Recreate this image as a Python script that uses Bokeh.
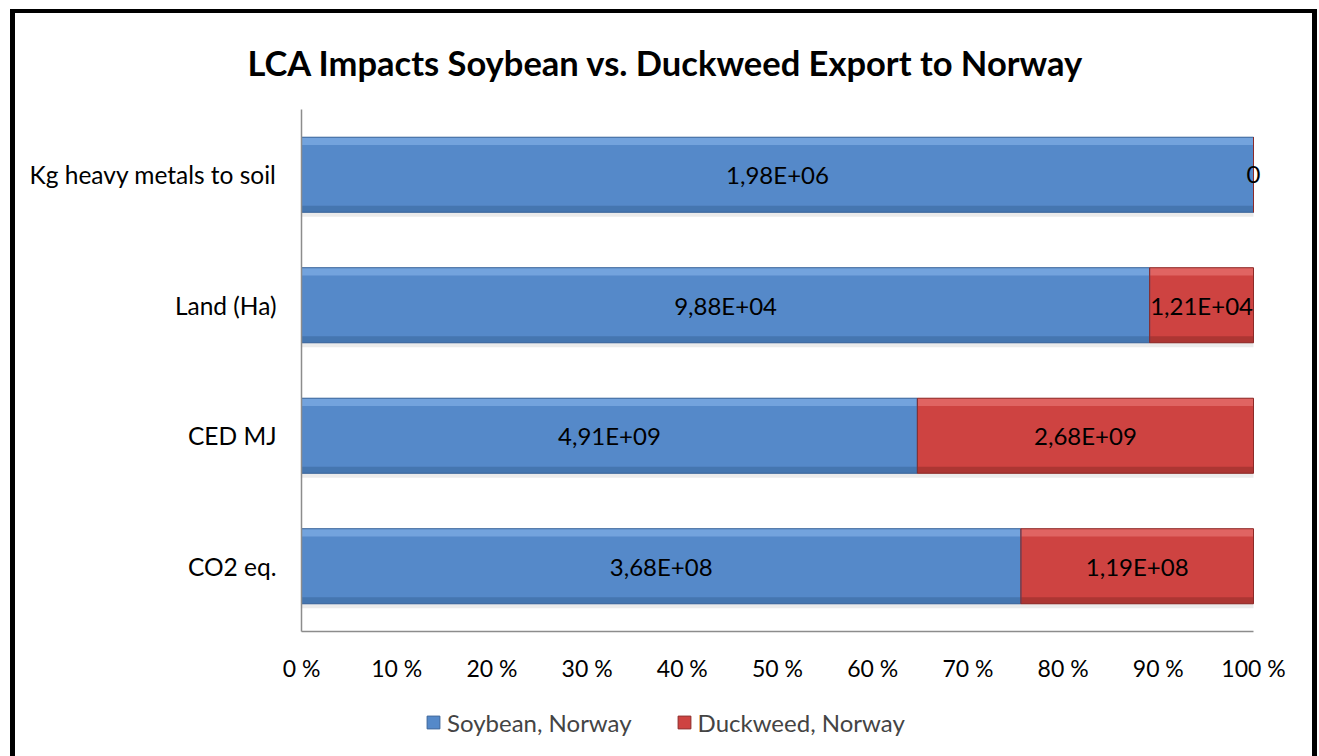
from bokeh.plotting import figure
from bokeh.layouts import column
from bokeh.models import (ColumnDataSource, FactorRange, Range1d, FixedTicker, Legend, LegendItem, Title)
from bokeh.transform import dodge
from bokeh.core.properties import value
from bokeh.embed import file_html
from bokeh.resources import INLINE

# ---- data ----
categories = ["CO2 eq.", "CED MJ", "Land (Ha)", "Kg heavy metals to soil"]
soybean = [3.68e8, 4.91e9, 9.88e4, 1.98e6]
duckweed = [1.19e8, 2.68e9, 1.21e4, 0.0]
series_names = ["Soybean, Norway", "Duckweed, Norway"]
x_ticks = [0, 10, 20, 30, 40, 50, 60, 70, 80, 90, 100]
x_tick_labels = ["0 %", "10 %", "20 %", "30 %", "40 %", "50 %", "60 %", "70 %", "80 %", "90 %", "100 %"]
title_text = "LCA Impacts Soybean vs. Duckweed Export to Norway"

FONT = "Lato"
BLUE, BLUE_L, BLUE_D = "#5589C9", "#80AEE6", "#3F6DA5"
RED, RED_L, RED_D = "#CE4341", "#E87270", "#9E302E"


def fmt(v):
    if v == 0:
        return "0"
    return ("%.2E" % v).replace(".", ",")


tot = [s + d for s, d in zip(soybean, duckweed)]
soy_pct = [100.0 * s / t for s, t in zip(soybean, tot)]
duck_pct = [100.0 * d / t for d, t in zip(duckweed, tot)]
src = ColumnDataSource(dict(
    cat=categories,
    s0=[0.0] * len(categories), s1=soy_pct,
    d0=soy_pct, d1=[a + b for a, b in zip(soy_pct, duck_pct)],
    smid=[a / 2 for a in soy_pct],
    dmid=[a + b / 2 for a, b in zip(soy_pct, duck_pct)],
    slab=[fmt(v) for v in soybean],
    dlab=[fmt(v) for v in duckweed],
))

FW = 964  # 952 px for 0..100 %, a little room to the right for the "0" label
p = figure(frame_width=FW, frame_height=522, output_backend="svg", toolbar_location=None,
           y_range=FactorRange(*categories, range_padding=0), x_range=Range1d(0, 100.0 * FW / 952),
           min_border_left=286, min_border_right=47, min_border_top=95, min_border_bottom=60)
p.background_fill_color = "white"
p.border_fill_color = "white"
p.outline_line_color = None
p.grid.visible = False

BH = 0.575
# shadow
p.hbar(y=dodge("cat", -0.035, range=p.y_range), left="s0", right="d1", height=BH,
       fill_color="#000000", fill_alpha=0.08, line_color=None, source=src)
p.hbar(y="cat", left="s0", right="s1", height=BH, fill_color=BLUE, line_color=None, source=src)
p.hbar(y="cat", left="d0", right="d1", height=BH, fill_color=RED, line_color=None, source=src)
# bevel strips
p.hbar(y=dodge("cat", BH / 2 - 0.03, range=p.y_range), left="s0", right="s1", height=0.06,
       fill_color=BLUE_L, line_color=None, fill_alpha=0.7, source=src)
p.hbar(y=dodge("cat", -BH / 2 + 0.025, range=p.y_range), left="s0", right="s1", height=0.05,
       fill_color=BLUE_D, line_color=None, fill_alpha=0.7, source=src)
p.hbar(y=dodge("cat", BH / 2 - 0.03, range=p.y_range), left="d0", right="d1", height=0.06,
       fill_color=RED_L, line_color=None, fill_alpha=0.7, source=src)
p.hbar(y=dodge("cat", -BH / 2 + 0.025, range=p.y_range), left="d0", right="d1", height=0.05,
       fill_color=RED_D, line_color=None, fill_alpha=0.7, source=src)
# outline
p.hbar(y="cat", left="s0", right="s1", height=BH, fill_color=None, line_color="#3A6499",
       line_width=1, source=src)
p.hbar(y="cat", left="d0", right="d1", height=BH, fill_color=None, line_color="#8C2A28",
       line_width=1, source=src)

p.text(x="smid", y="cat", text="slab", source=src, text_align="center", text_baseline="middle",
       text_font=value(FONT), text_font_size="24px", text_color="black")
p.text(x="dmid", y="cat", text="dlab", source=src, text_align="center", text_baseline="middle",
       text_font=value(FONT), text_font_size="24px", text_color="black")

p.xaxis.ticker = FixedTicker(ticks=x_ticks)
p.xaxis.major_label_overrides = {t: l for t, l in zip(x_ticks, x_tick_labels)}
p.xaxis.bounds = (0, 100)
for ax in (p.xaxis[0], p.yaxis[0]):
    ax.axis_line_color = "#8C8C8C"
    ax.axis_line_width = 1.5
    ax.major_tick_line_color = None
    ax.major_tick_out = 0
    ax.major_tick_in = 0
    ax.minor_tick_line_color = None
    ax.major_label_text_font = FONT
    ax.major_label_text_color = "black"
p.xaxis.major_label_text_font_size = "23px"
p.yaxis.major_label_text_font_size = "24.5px"
p.xaxis.major_label_standoff = 22
p.yaxis.major_label_standoff = 25

t = Title(text=title_text, align="left", text_font=FONT,
          text_font_size="34.5px", text_font_style="bold", text_color="black",
          offset=-54, standoff=53)
p.add_layout(t, "above")

# ---- legend strip below the chart ----
LH = 743 - (95 + 522 + 60)
lg = figure(width=1297, height=LH, output_backend="svg", toolbar_location=None,
            x_range=Range1d(1000, 1001), y_range=FactorRange(*categories),
            min_border=0, outline_line_color=None)
lg.axis.visible = False
lg.grid.visible = False
lg.background_fill_color = "white"
lg.border_fill_color = "white"
ls = lg.hbar(y="cat", left="s0", right="s1", height=BH, fill_color=BLUE, line_color="#3A6499",
             source=src, visible=False)
lr = lg.hbar(y="cat", left="d0", right="d1", height=BH, fill_color=RED, line_color="#8C2A28",
             source=src, visible=False)
legend = Legend(items=[LegendItem(label=series_names[0], renderers=[ls]),
                       LegendItem(label=series_names[1], renderers=[lr])],
                orientation="horizontal", location=(124, LH - 32 - 14), label_text_font=FONT,
                label_text_font_size="24px", glyph_width=16, glyph_height=16,
                spacing=44, label_standoff=6, border_line_color=None,
                background_fill_alpha=0, margin=0, padding=0, label_height=30)
lg.add_layout(legend, "center")

root = column(p, lg, spacing=0,
              styles={"border-left": "5px solid black", "border-right": "5px solid black",
                      "border-top": "4px solid black", "margin-left": "10px", "margin-top": "9px",
                      "background": "white"})

open("out.html", "w").write(file_html(root, INLINE))
